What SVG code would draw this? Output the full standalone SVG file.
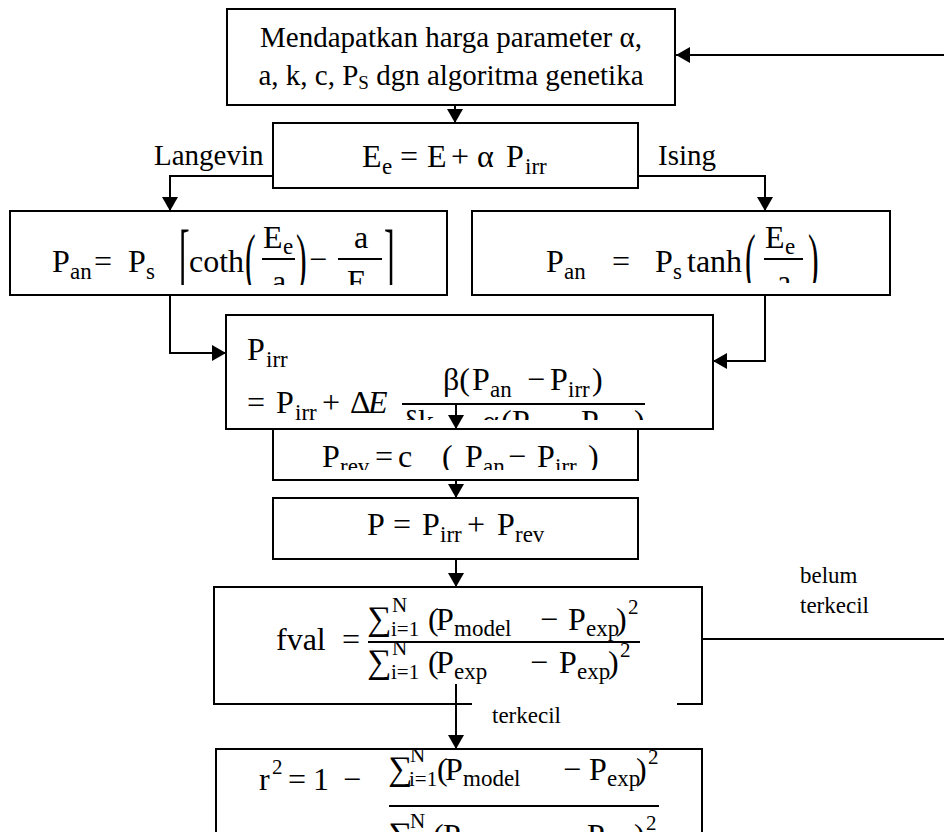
<svg xmlns="http://www.w3.org/2000/svg" width="944" height="832" viewBox="0 0 944 832">
<style>
.bx{fill:#fff;stroke:#000;stroke-width:2}
.bo{fill:none;stroke:#000;stroke-width:2}
.ln{fill:none;stroke:#000;stroke-width:2}
.fl{stroke:#000;stroke-width:2}
text{font-family:"Liberation Serif","Times New Roman","DejaVu Serif",serif;fill:#000}
.t{font-size:29px}
.lb{font-size:23px}
.m{font-size:32px}
.s{font-size:23px}
.ss{font-size:21px}
.sg{font-size:34px}
.it{font-style:italic}
</style>
<defs>
<marker id="ah" viewBox="0 0 14 16" refX="14" refY="8" markerWidth="14" markerHeight="16" markerUnits="userSpaceOnUse" orient="auto">
<path d="M0,0 L14,8 L0,16 z" fill="#000"/>
</marker>
<clipPath id="cL"><rect x="10" y="211" width="437" height="74"/></clipPath>
<clipPath id="cR"><rect x="472" y="211" width="418" height="72"/></clipPath>
<clipPath id="cI"><rect x="226" y="315" width="487" height="105"/></clipPath>
<clipPath id="cV"><rect x="273" y="429" width="365" height="41"/></clipPath>
</defs>
<rect width="944" height="832" fill="#fff"/>

<g id="n-top">
<rect class="bx" x="227" y="9" width="448" height="96"/>
<text class="t" x="451" y="47" text-anchor="middle">Mendapatkan harga parameter α,</text>
<text class="t" x="451" y="85" text-anchor="middle">a, k, c, P<tspan font-size="19" dy="4">S</tspan><tspan dy="-4"> dgn algoritma genetika</tspan></text>
</g>

<g id="n-ee">
<rect class="bx" x="273" y="123" width="365" height="65"/>
<text class="m" y="167"><tspan x="362">E</tspan><tspan class="s" x="382" y="174">e</tspan><tspan x="400" y="167">=</tspan><tspan x="427">E</tspan><tspan x="451">+</tspan><tspan x="477">α</tspan><tspan x="506">P</tspan><tspan class="s" x="525" y="174">irr</tspan></text>
</g>

<g id="lbl-branch">
<text class="t" x="154" y="165">Langevin</text>
<text class="t" x="658" y="165">Ising</text>
</g>

<g id="n-pan-langevin">
<rect class="bx" x="10" y="211" width="437" height="84"/>
<g clip-path="url(#cL)">
<text class="m" y="272"><tspan x="52">P</tspan><tspan class="s" x="70" y="279">an</tspan><tspan x="94" y="272">=</tspan><tspan x="128">P</tspan><tspan class="s" x="146" y="279">s</tspan><tspan x="189" y="272">coth</tspan><tspan x="309" y="270">−</tspan></text>
<text class="m" transform="translate(179,281) scale(1,2.3)">[</text>
<text class="m" transform="translate(245,281) scale(1,2.1)">(</text>
<text class="m" transform="translate(296,281) scale(1,2.1)">)</text>
<text class="m" transform="translate(384,281) scale(1,2.3)">]</text>
<text class="m" y="248"><tspan x="263">E</tspan><tspan class="s" x="283" y="254">e</tspan></text>
<line class="fl" x1="262" y1="259" x2="295" y2="259"/>
<text class="m" x="272" y="292">a</text>
<text class="m" x="354" y="248">a</text>
<line class="fl" x1="338" y1="259" x2="382" y2="259"/>
<text class="m" y="292"><tspan x="347">E</tspan><tspan class="s" x="367" y="298">e</tspan></text>
</g>
</g>

<g id="n-pan-ising">
<rect class="bx" x="472" y="211" width="418" height="84"/>
<g clip-path="url(#cR)">
<text class="m" y="272"><tspan x="546">P</tspan><tspan class="s" x="564" y="279">an</tspan><tspan x="612" y="272">=</tspan><tspan x="655">P</tspan><tspan class="s" x="673" y="279">s</tspan><tspan x="687" y="272">tanh</tspan></text>
<text class="m" transform="translate(745,281) scale(1,2.1)">(</text>
<text class="m" transform="translate(808,281) scale(1,2.1)">)</text>
<text class="m" y="248"><tspan x="765">E</tspan><tspan class="s" x="785" y="254">e</tspan></text>
<line class="fl" x1="764" y1="259" x2="803" y2="259"/>
<text class="m" x="777" y="292">a</text>
</g>
</g>

<g id="n-pirr">
<rect class="bx" x="226" y="315" width="487" height="114"/>
<g clip-path="url(#cI)">
<text class="m" y="360"><tspan x="247">P</tspan><tspan class="s" x="266" y="367">irr</tspan></text>
<text class="m" y="413"><tspan x="247">=</tspan><tspan x="276">P</tspan><tspan class="s" x="295" y="420">irr</tspan><tspan x="322" y="413">+</tspan><tspan x="350">Δ</tspan><tspan class="it" x="368">E</tspan></text>
<text class="m" y="390"><tspan x="443">β(</tspan><tspan x="472">P</tspan><tspan class="s" x="490" y="397">an</tspan><tspan x="527" y="390">−</tspan><tspan x="550">P</tspan><tspan class="s" x="568" y="397">irr</tspan><tspan x="592" y="390">)</tspan></text>
<line class="fl" x1="402" y1="404" x2="645" y2="404"/>
<text class="m" y="432"><tspan x="403">δ</tspan><tspan x="418">k</tspan><tspan x="445">−</tspan><tspan x="482">α</tspan><tspan x="501">(</tspan><tspan x="512">P</tspan><tspan class="s" x="530" y="439">an</tspan><tspan x="552" y="432">−</tspan><tspan x="581">P</tspan><tspan class="s" x="599" y="439">irr</tspan><tspan x="634" y="432">)</tspan></text>
</g>
</g>

<g id="n-prev">
<rect class="bx" x="273" y="429" width="365" height="51"/>
<g clip-path="url(#cV)">
<text class="m" y="467"><tspan x="322">P</tspan><tspan class="s" x="340" y="474">rev</tspan><tspan x="375" y="467">=</tspan><tspan x="398">c</tspan><tspan x="442">(</tspan><tspan x="465">P</tspan><tspan class="s" x="483" y="474">an</tspan><tspan x="508" y="467">−</tspan><tspan x="537">P</tspan><tspan class="s" x="555" y="474">irr</tspan><tspan x="588" y="467">)</tspan></text>
</g>
</g>

<g id="n-p">
<rect class="bx" x="273" y="498" width="365" height="61"/>
<text class="m" y="535"><tspan x="367">P</tspan><tspan x="393">=</tspan><tspan x="422">P</tspan><tspan class="s" x="440" y="542">irr</tspan><tspan x="467" y="535">+</tspan><tspan x="497">P</tspan><tspan class="s" x="515" y="542">rev</tspan></text>
</g>

<g id="n-fval">
<path class="bo" d="M472,704 H214 V587 H702 V704 H677"/>
<text class="m" y="650"><tspan x="276">fval</tspan><tspan x="342">=</tspan></text>
<text class="m" y="630"><tspan class="sg" x="367">∑</tspan><tspan class="ss" x="392" y="612">N</tspan><tspan class="ss" x="391" y="636">i=1</tspan><tspan x="428" y="630">(</tspan><tspan x="436">P</tspan><tspan class="s" x="454" y="636" font-size="25">model</tspan><tspan x="540" y="630">−</tspan><tspan x="568">P</tspan><tspan class="s" x="586" y="636">exp</tspan><tspan x="616" y="630">)</tspan><tspan class="ss" x="628" y="614">2</tspan></text>
<line class="fl" x1="368" y1="642" x2="640" y2="642"/>
<text class="m" y="673"><tspan class="sg" x="367">∑</tspan><tspan class="ss" x="392" y="655">N</tspan><tspan class="ss" x="391" y="679">i=1</tspan><tspan x="428" y="673">(</tspan><tspan x="436">P</tspan><tspan class="s" x="454" y="679">exp</tspan><tspan x="530" y="673">−</tspan><tspan x="559">P</tspan><tspan class="s" x="577" y="679">exp</tspan><tspan x="608" y="673">)</tspan><tspan class="ss" x="620" y="657">2</tspan></text>
</g>

<g id="n-r2">
<path class="bo" d="M216,840 V749 H702 V840"/>
<text class="m" y="790"><tspan x="259">r</tspan><tspan class="ss" x="272" y="774">2</tspan><tspan x="288" y="790">=</tspan><tspan x="313">1</tspan><tspan x="343">−</tspan></text>
<text class="m" y="780"><tspan class="sg" x="388">∑</tspan><tspan class="ss" x="410" y="762">N</tspan><tspan class="ss" x="409" y="786">i=1</tspan><tspan x="437" y="780">(</tspan><tspan x="445">P</tspan><tspan class="s" x="463" y="786" font-size="25">model</tspan><tspan x="563" y="780">−</tspan><tspan x="589">P</tspan><tspan class="s" x="607" y="786">exp</tspan><tspan x="636" y="780">)</tspan><tspan class="ss" x="648" y="764">2</tspan></text>
<line class="fl" x1="389" y1="806" x2="659" y2="806"/>
<text class="m" y="846"><tspan class="sg" x="388">∑</tspan><tspan class="ss" x="410" y="828">N</tspan><tspan class="ss" x="409" y="852">i=1</tspan><tspan x="433" y="846">(</tspan><tspan x="443">P</tspan><tspan class="s" x="461" y="852">exp</tspan><tspan x="545" y="846">−</tspan><tspan x="587">P</tspan><tspan class="s" x="605" y="852">exp</tspan><tspan x="634" y="846">)</tspan><tspan class="ss" x="646" y="830">2</tspan></text>
</g>

<g id="connectors">
<path class="ln" d="M944,55 H676" marker-end="url(#ah)"/>
<path class="ln" d="M455,105 V123" marker-end="url(#ah)"/>
<path class="ln" d="M273,176 H170 V211" marker-end="url(#ah)"/>
<path class="ln" d="M638,176 H765 V211" marker-end="url(#ah)"/>
<path class="ln" d="M170,295 V353 H226" marker-end="url(#ah)"/>
<path class="ln" d="M765,295 V361 H713" marker-end="url(#ah)"/>
<path class="ln" d="M456,404 V429" marker-end="url(#ah)"/>
<path class="ln" d="M456,480 V498" marker-end="url(#ah)"/>
<path class="ln" d="M456,559 V587" marker-end="url(#ah)"/>
<path class="ln" d="M456,684 V749" marker-end="url(#ah)"/>
<path class="ln" d="M702,639 H944"/>
</g>

<g id="lbl-loop">
<text class="lb" x="800" y="583">belum</text>
<text class="lb" x="800" y="613">terkecil</text>
<text class="lb" x="492" y="723">terkecil</text>
</g>
</svg>
